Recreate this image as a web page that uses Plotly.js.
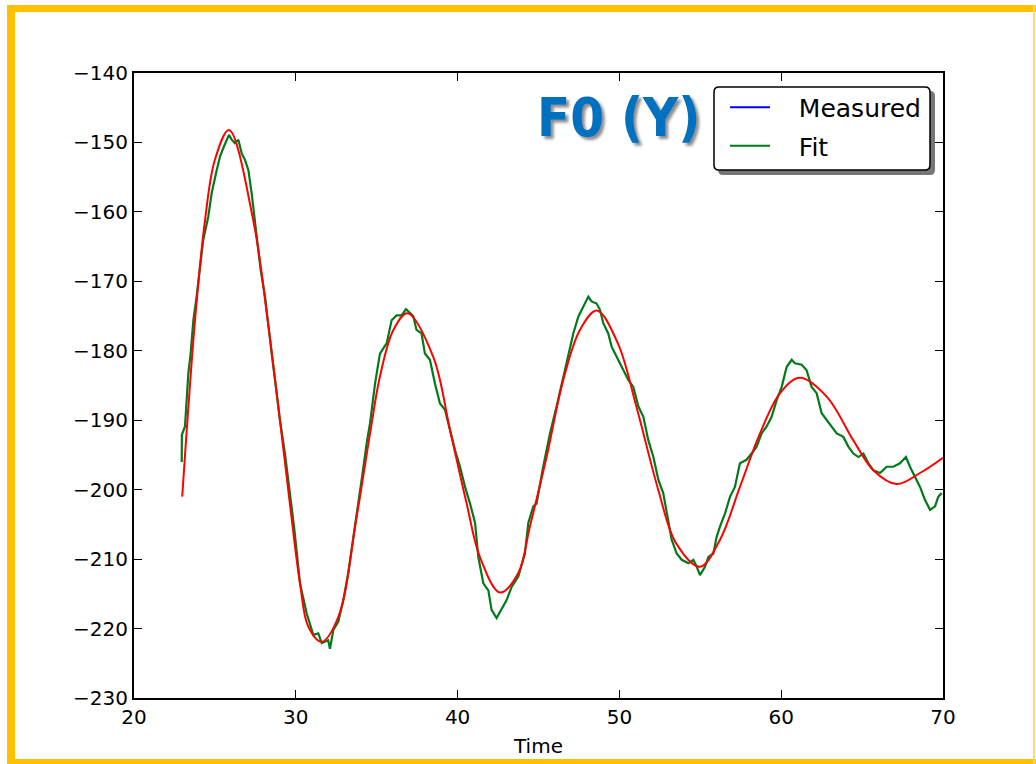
<!DOCTYPE html>
<html>
<head>
<meta charset="utf-8">
<script src="https://cdn.plot.ly/plotly-3.0.1.min.js"></script>
<style>
  html, body { margin: 0; padding: 0; background: #ffffff; }
  #chart { width: 1036px; height: 764px; }
</style>
</head>
<body>
<div id="chart"></div>
<script>
// ---- Data ----
const measuredTime = [
  22.95, 22.96, 23.15, 23.26, 23.36, 23.50, 23.67, 23.87, 24.08, 24.28,
  24.59, 24.80, 25.11, 25.32, 25.52, 25.73, 25.87, 26.04, 26.24, 26.45,
  26.66, 26.86, 27.07, 27.27, 27.48, 27.68, 27.83, 28.10, 28.30, 28.51,
  28.77, 29.02, 29.33, 29.54, 29.74, 29.90, 30.26, 30.67, 31.08, 31.39,
  31.60, 32.00, 32.11, 32.32, 32.63, 32.94, 33.24, 33.55, 33.86, 34.13,
  34.38, 34.59, 34.90, 35.20, 35.62, 35.92, 36.23, 36.54, 36.81, 37.06,
  37.26, 37.46, 37.77, 37.98, 38.29, 38.60, 38.91, 39.22, 39.53, 39.84,
  40.15, 40.46, 40.77, 41.08, 41.28, 41.59, 41.90, 42.10, 42.41, 42.72,
  43.03, 43.34, 43.75, 44.16, 44.37, 44.68, 44.88, 45.29, 45.71, 46.12,
  46.53, 46.84, 47.15, 47.46, 47.77, 48.08, 48.28, 48.59, 48.80, 49.00,
  49.31, 49.52, 49.73, 49.93, 50.24, 50.55, 50.86, 51.17, 51.48, 51.79,
  52.10, 52.41, 52.71, 52.92, 53.23, 53.54, 53.85, 54.26, 54.57, 54.78,
  54.98, 55.29, 55.50, 55.81, 56.01, 56.22, 56.53, 56.84, 57.14, 57.45,
  57.86, 58.17, 58.48, 58.79, 59.10, 59.41, 59.72, 60.03, 60.34, 60.65,
  60.85, 61.27, 61.57, 61.88, 62.19, 62.50, 62.81, 63.12, 63.43, 63.84,
  64.15, 64.46, 64.77, 65.08, 65.39, 65.69, 66.11, 66.52, 66.93, 67.34,
  67.71, 67.96, 68.27, 68.58, 68.89, 69.20, 69.51, 69.71, 69.92
];
const measuredValue = [
  -196.0, -192.1, -190.9, -186.6, -183.2, -180.4, -175.6, -172.2, -167.9, -164.0,
  -160.7, -157.3, -154.0, -152.0, -150.8, -149.6, -148.9, -149.6, -150.1, -149.6,
  -151.6, -152.5, -154.0, -157.3, -161.2, -165.0, -168.4, -172.2, -176.5, -180.4,
  -185.2, -190.0, -194.8, -198.6, -202.0, -205.5, -213.5, -217.8, -220.9, -220.7,
  -222.1, -221.7, -222.9, -220.2, -219.0, -215.9, -212.0, -207.2, -202.4, -197.6,
  -193.3, -190.4, -184.7, -180.4, -178.9, -175.6, -174.9, -174.9, -174.0, -174.6,
  -175.0, -177.0, -177.5, -180.4, -181.3, -184.7, -187.6, -188.5, -191.4, -194.3,
  -196.7, -199.6, -202.0, -204.8, -209.7, -213.5, -214.5, -217.3, -218.5, -217.3,
  -215.9, -214.0, -212.5, -209.2, -204.8, -202.4, -202.0, -196.7, -191.9, -188.0,
  -183.7, -180.4, -177.5, -175.1, -173.6, -172.2, -172.9, -173.2, -174.1, -176.0,
  -177.5, -179.4, -180.4, -181.3, -182.8, -184.2, -185.2, -188.0, -189.5, -192.9,
  -195.3, -198.6, -200.5, -203.4, -207.2, -209.2, -210.1, -210.6, -210.1, -211.1,
  -212.3, -211.1, -209.7, -209.2, -206.8, -205.3, -203.4, -201.0, -199.6, -196.2,
  -195.7, -194.8, -193.8, -191.9, -190.9, -189.5, -187.1, -185.2, -182.3, -181.3,
  -181.8, -182.0, -182.8, -185.2, -186.1, -189.0, -190.0, -190.9, -191.9, -192.4,
  -193.8, -194.8, -195.3, -194.8, -196.2, -197.2, -197.6, -196.7, -196.7, -196.2,
  -195.3, -196.7, -198.1, -199.6, -201.5, -202.9, -202.4, -201.0, -200.5
];
const fitTime = [
  22.98, 23.77, 24.39, 25.00, 25.87, 27.37, 28.26, 29.02, 29.66, 30.26,
  30.77, 31.60, 32.63, 33.76, 34.59, 35.20, 36.03, 36.90, 38.50, 39.53,
  40.56, 41.38, 42.62, 43.75, 44.47, 45.50, 46.53, 47.56, 48.60, 49.90,
  51.10, 52.40, 53.50, 54.98, 56.22, 57.45, 58.69, 59.93, 61.16, 62.81,
  64.46, 65.69, 67.14, 68.58, 70.00
];
const fitValue = [
  -201.0, -175.6, -161.2, -152.5, -148.2, -161.2, -175.6, -190.0, -202.5, -213.5,
  -219.7, -221.9, -218.3, -203.9, -191.9, -183.7, -177.0, -174.6, -180.9, -191.4,
  -202.0, -209.7, -214.8, -212.0, -205.3, -195.3, -184.2, -177.0, -174.2, -178.9,
  -188.5, -200.0, -207.7, -211.1, -207.2, -199.6, -191.9, -186.1, -183.9, -186.6,
  -192.9, -197.2, -199.2, -197.6, -195.4
];
const xTicks = [20, 30, 40, 50, 60, 70];
const yTicks = [-230, -220, -210, -200, -190, -180, -170, -160, -150, -140];
const legendNames = ["Measured", "Fit"];
const chartLabel = "F0 (Y)";
const xAxisLabel = "Time";

// ---- Pixel helpers (plot area 134..943 x, 73..698 y) ----
const PL = 134, PR = 943, PT = 73, PB = 698;
const px = v => (v - PL) / (PR - PL);
const py = v => (PB - v) / (PB - PT);
function rectShape(x0, y0, x1, y1, color) {
  return { type: "rect", xref: "paper", yref: "paper", layer: "above",
    x0: px(x0), x1: px(x1), y0: py(y1), y1: py(y0),
    fillcolor: color, line: { width: 0 } };
}
function roundRectPath(x0, y0, x1, y1, r) {
  const X = v => px(v).toFixed(5), Y = v => py(v).toFixed(5);
  return "M" + X(x0 + r) + "," + Y(y0) +
    " L" + X(x1 - r) + "," + Y(y0) + " Q" + X(x1) + "," + Y(y0) + " " + X(x1) + "," + Y(y0 + r) +
    " L" + X(x1) + "," + Y(y1 - r) + " Q" + X(x1) + "," + Y(y1) + " " + X(x1 - r) + "," + Y(y1) +
    " L" + X(x0 + r) + "," + Y(y1) + " Q" + X(x0) + "," + Y(y1) + " " + X(x0) + "," + Y(y1 - r) +
    " L" + X(x0) + "," + Y(y0 + r) + " Q" + X(x0) + "," + Y(y0) + " " + X(x0 + r) + "," + Y(y0) + " Z";
}
const pad = "\u00a0\u00a0\u00a0";

const traces = [
  { x: [null], y: [null], type: "scatter", mode: "lines", name: pad + legendNames[0],
    line: { color: "#0000ff", width: 2 }, hoverinfo: "skip", legendgroup: "a" },
  { x: measuredTime, y: measuredValue, type: "scatter", mode: "lines", name: pad + legendNames[1],
    line: { color: "#007a1a", width: 2.2 }, legendgroup: "b" },
  { x: fitTime, y: fitValue, type: "scatter", mode: "lines", name: "fit curve",
    line: { color: "#ff0000", width: 2, shape: "spline", smoothing: 1 }, showlegend: false }
];

const axisFont = { family: "DejaVu Sans, Verdana, sans-serif", size: 20, color: "#000000" };

const layout = {
  width: 1036, height: 764,
  paper_bgcolor: "#ffffff", plot_bgcolor: "#ffffff",
  margin: { l: PL, r: 1036 - PR, t: PT, b: 764 - PB, pad: 0 },
  showlegend: true,
  font: axisFont,
  xaxis: {
    range: [20, 70], tickvals: xTicks, ticks: "inside", ticklen: 8, tickwidth: 1.2,
    tickcolor: "#000", showline: true, linecolor: "#000", linewidth: 2, mirror: "ticks",
    showgrid: false, zeroline: false, tickfont: axisFont,
    title: { text: xAxisLabel, font: { family: "DejaVu Sans, sans-serif", size: 20, color: "#000" }, standoff: 11 }
  },
  yaxis: {
    range: [-230, -140], tickvals: yTicks, ticks: "inside", ticklen: 8, tickwidth: 1.2,
    tickcolor: "#000", showline: true, linecolor: "#000", linewidth: 2, mirror: "ticks",
    showgrid: false, zeroline: false, tickfont: axisFont
  },
  legend: {
    x: px(725), y: py(84.5), xanchor: "left", yanchor: "top",
    bgcolor: "rgba(0,0,0,0)", borderwidth: 0, tracegroupgap: 3,
    font: { family: "DejaVu Sans, sans-serif", size: 25, color: "#000" },
    itemwidth: 40
  },
  annotations: [
    { text: chartLabel, xref: "paper", yref: "paper", x: px(618), y: py(117),
      xanchor: "center", yanchor: "middle", showarrow: false,
      font: { family: "DejaVu Sans Condensed, DejaVu Sans, sans-serif", size: 54, color: "#0070C0",
              weight: "bold", shadow: "3px 3px 3px rgba(0,0,0,0.45)" } }
  ],
  shapes: [
    // legend shadow and box
    { type: "path", xref: "paper", yref: "paper", layer: "above",
      path: roundRectPath(718, 91, 935, 175, 5), fillcolor: "rgba(60,60,60,0.7)", line: { width: 0 } },
    { type: "path", xref: "paper", yref: "paper", layer: "above",
      path: roundRectPath(714, 87, 930, 170, 5), fillcolor: "#ffffff", line: { color: "#000", width: 1.5 } },
    // yellow slide frame
    rectShape(7, 5, 1036, 12, "#FFC000"),
    rectShape(7, 5, 15, 764, "#FFC000"),
    rectShape(7, 759, 1036, 764, "#FFC000"),
    rectShape(1033, 5, 1035, 764, "#FFD966")
  ]
};

Plotly.newPlot("chart", traces, layout, { displayModeBar: false, staticPlot: true });
</script>
</body>
</html>
